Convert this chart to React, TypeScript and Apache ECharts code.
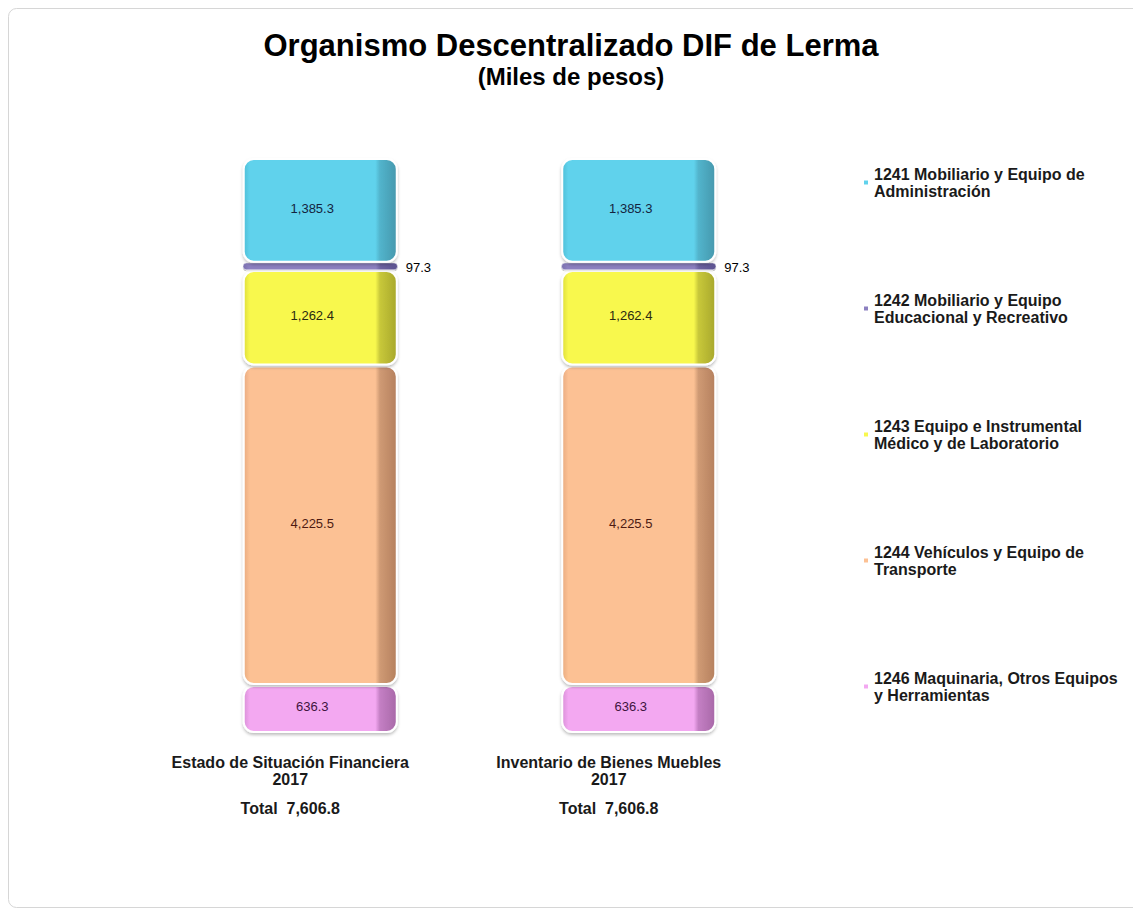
import React, { useEffect, useRef } from "react";
import * as echarts from "echarts";

const categories = ["Estado de Situación Financiera", "Inventario de Bienes Muebles"];
const yearLabel = "2017";
const v1246 = [636.3, 636.3];
const v1244 = [4225.5, 4225.5];
const v1243 = [1262.4, 1262.4];
const v1242 = [97.3, 97.3];
const v1241 = [1385.3, 1385.3];

const names = {
  s1241: "1241 Mobiliario y Equipo de\nAdministración",
  s1242: "1242 Mobiliario y Equipo\nEducacional y Recreativo",
  s1243: "1243 Equipo e Instrumental\nMédico y de Laboratorio",
  s1244: "1244 Vehículos y Equipo de\nTransporte",
  s1246: "1246 Maquinaria, Otros Equipos\ny Herramientas",
};

const fmt = (v: number) =>
  v.toLocaleString("en-US", { minimumFractionDigits: 1, maximumFractionDigits: 1 });

const grad = (edge: string, front: string, side: string, sideDark: string) => ({
  type: "linear",
  x: 0,
  y: 0,
  x2: 1,
  y2: 0,
  colorStops: [
    { offset: 0, color: edge },
    { offset: 0.04, color: front },
    { offset: 0.86, color: front },
    { offset: 0.89, color: side },
    { offset: 1, color: sideDark },
  ],
});

export default function App() {
  const ref = useRef<HTMLDivElement>(null);
  useEffect(() => {
    if (!ref.current) return;
    const chart = echarts.init(ref.current, null, { renderer: "svg" });
    const totals = categories.map(
      (_, i) => v1246[i] + v1244[i] + v1243[i] + v1242[i] + v1241[i]
    );
    const maxTotal = Math.max(...totals);
    const font = "'Liberation Sans', Arial, sans-serif";

    const mk = (
      name: string,
      data: number[],
      color: any,
      labelColor: string,
      outside = false
    ) => ({
      name,
      type: "bar",
      stack: "total",
      barWidth: 155,
      data,
      itemStyle: {
        color,
        borderRadius: outside ? 4 : 10,
        borderColor: "#ffffff",
        borderWidth: outside ? 0.5 : 2,
        shadowBlur: outside ? 1 : 3,
        shadowColor: "rgba(0,0,0,0.25)",
        shadowOffsetY: outside ? 1 : 2,
      },
      label: {
        show: true,
        position: outside ? "right" : "inside",
        distance: 8,
        offset: outside ? [0, 1] : [-8, -2],
        formatter: (p: any) => fmt(p.value),
        color: labelColor,
        fontSize: 13,
        fontFamily: font,
      },
    });

    chart.setOption({
      animation: false,
      backgroundColor: "#ffffff",
      title: {
        text: "Organismo Descentralizado DIF de Lerma",
        subtext: "(Miles de pesos)",
        left: 566,
        textAlign: "center",
        top: 25,
        itemGap: 3,
        textStyle: { fontSize: 31, fontWeight: "bold", color: "#000", fontFamily: font },
        subtextStyle: { fontSize: 24, fontWeight: "bold", color: "#000", fontFamily: font },
      },
      graphic: [
        {
          type: "rect",
          shape: { x: 8.5, y: 8.5, width: 1140, height: 899, r: 8 },
          style: { fill: "none", stroke: "#d6d6d6", lineWidth: 1 },
          silent: true,
        },
      ],
      legend: {
        orient: "vertical",
        left: 862,
        top: 157,
        padding: 0,
        itemGap: 75,
        itemWidth: 6,
        itemHeight: 6,
        icon: "rect",
        data: [names.s1241, names.s1242, names.s1243, names.s1244, names.s1246],
        textStyle: {
          fontSize: 16,
          fontWeight: "bold",
          color: "#1a1a1a",
          lineHeight: 17,
          padding: [17, 0, 0, 0],
          fontFamily: font,
        },
      },
      grid: { left: 161, width: 637, top: 158, height: 575 },
      xAxis: {
        type: "category",
        data: categories,
        axisLine: { show: false },
        axisTick: { show: false },
        axisLabel: {
          margin: 21,
          interval: 0,
          formatter: (v: string, i: number) =>
            `{c|${v}}\n{c|${yearLabel}}\n{t|Total  ${fmt(totals[i])}}`,
          rich: {
            c: {
              fontSize: 16,
              fontWeight: "bold",
              color: "#1a1a1a",
              lineHeight: 17,
              padding: [0, 60, 0, 0],
              fontFamily: font,
            },
            t: {
              fontSize: 16,
              fontWeight: "bold",
              color: "#1a1a1a",
              lineHeight: 41,
              padding: [0, 60, 0, 0],
              fontFamily: font,
            },
          },
        },
      },
      yAxis: { type: "value", show: false, min: 0, max: maxTotal },
      series: [
        mk(names.s1246, v1246, grad("#d98fd8", "#f3a8f1", "#c47fc4", "#a868a8"), "#40143e"),
        mk(names.s1244, v1244, grad("#e9ab80", "#fcc194", "#cf9a74", "#b5805e"), "#4d1a12"),
        mk(names.s1243, v1243, grad("#dede3a", "#f8f84e", "#c8c83a", "#a8a82c"), "#2a2a10"),
        mk(names.s1242, v1242, grad("#7a6fae", "#8c80c0", "#6d62a0", "#5c5290"), "#000000", true),
        mk(names.s1241, v1241, grad("#4fbfd8", "#60d2ec", "#52b4cc", "#4698ad"), "#14243f"),
      ],
    });
    return () => chart.dispose();
  }, []);
  return (
    <div
      ref={ref}
      style={{ position: "fixed", left: 0, top: 0, width: 1133, height: 910 }}
    />
  );
}
